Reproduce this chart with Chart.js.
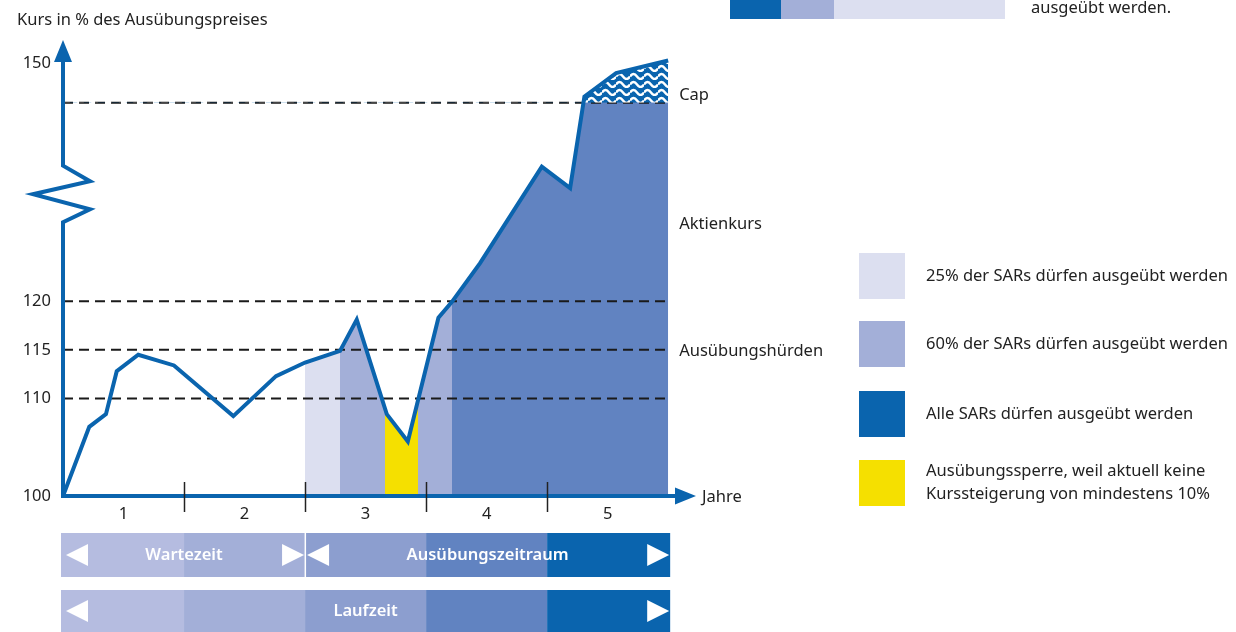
<!DOCTYPE html>
<html lang="de">
<head>
<meta charset="utf-8">
<title>SAR Ausübung</title>
<script src="https://cdn.jsdelivr.net/npm/chart.js@4.4.1/dist/chart.umd.min.js"></script>
<style>
  html, body { margin: 0; padding: 0; background: #fff; }
  #wrap { position: relative; width: 1236px; height: 632px; overflow: hidden; }
</style>
</head>
<body>
<div id="wrap"><canvas id="sarChart" width="1236" height="632"></canvas></div>
<script>
// Aktienkurs (Jahre / Kurs in % des Ausübungspreises, oberhalb des Achsenbruchs gestaucht)
const kursJahre = [0, 0.217, 0.355, 0.444, 0.622, 0.917, 1.407, 1.76, 2.0, 2.289, 2.427, 2.675, 2.849, 3.102, 3.212, 3.446, 3.956, 4.19, 4.308, 4.57, 5.0];
const kursWerte = [100, 107.1, 108.4, 112.8, 114.5, 113.4, 108.2, 112.3, 113.7, 114.9, 118.1, 108.4, 105.6, 118.3, 119.9, 123.9, 133.8, 131.6, 141.0, 143.4, 144.7];

// Ausübungshürden und Cap
const huerden = [110, 115, 120];
const capWert = 140.35;

// Farbbänder unter der Kurslinie
const bandVon = [2.0, 2.289, 2.661, 2.931, 3.212];
const bandBis = [2.289, 2.661, 2.931, 3.212, 5.0];
const bandFarben = ['#dcdff0', '#a3afd8', '#f5e000', '#a3afd8', '#6183c1'];

// Achsenbeschriftung
const yTickWerte = [100, 110, 115, 120, 144.4];
const yTickLabels = ['100', '110', '115', '120', '150'];
const jahrLabels = ['1', '2', '3', '4', '5'];
const achsenbruch = [128.1, 133.9];

// Zeitbalken unten
const balkenFarben = ['#b5bce0', '#a3afd8', '#8c9ecf', '#6183c1', '#0a64ae'];

// Legende
const legendeTexte = ['25% der SARs dürfen ausgeübt werden', '60% der SARs dürfen ausgeübt werden', 'Alle SARs dürfen ausgeübt werden', 'Ausübungssperre, weil aktuell keine\nKurssteigerung von mindestens 10%'];
const legendeFarben = ['#dcdff0', '#a3afd8', '#0a64ae', '#f5e000'];

const BLAU = '#0a64ae';
const FONT = '"Noto Sans", "Open Sans", sans-serif';
const TEXT = '#222';
const GROESSE = '16.5px ';

const kursDaten = kursJahre.map(function(j, i) { return { x: j, y: kursWerte[i] }; });

// Wellenmuster oberhalb des Caps
function wellenMuster() {
    const c = document.createElement('canvas');
    c.width = 14;
    c.height = 8;
    const g = c.getContext('2d');
    g.fillStyle = BLAU;
    g.fillRect(0, 0, 14, 8);
    g.strokeStyle = '#fff';
    g.lineWidth = 2.4;
    g.beginPath();
    g.moveTo(0, 4.5);
    g.quadraticCurveTo(3.5, -0.5, 7, 4.5);
    g.quadraticCurveTo(10.5, 9.5, 14, 4.5);
    g.stroke();
    return g.createPattern(c, 'repeat');
}
const muster = wellenMuster();

function bandVerlauf(context) {
    const chart = context.chart;
    if (!chart.chartArea || !chart.scales.x) return 'rgba(0,0,0,0)';
    const x = chart.scales.x;
    const x0 = x.getPixelForValue(0);
    const x1 = x.getPixelForValue(5);
    const grad = chart.ctx.createLinearGradient(x0, 0, x1, 0);
    grad.addColorStop(0, 'rgba(255,255,255,0)');
    bandVon.forEach(function(v, i) {
        grad.addColorStop(v / 5, i === 0 ? 'rgba(255,255,255,0)' : bandFarben[i - 1]);
        grad.addColorStop(v / 5, bandFarben[i]);
    });
    grad.addColorStop(1, bandFarben[bandFarben.length - 1]);
    return grad;
}

function dreieck(ctx, spitzeX, mitteY, richtung) {
    ctx.beginPath();
    ctx.moveTo(spitzeX, mitteY);
    ctx.lineTo(spitzeX - richtung * 22, mitteY - 11);
    ctx.lineTo(spitzeX - richtung * 22, mitteY + 11);
    ctx.closePath();
    ctx.fill();
}

const dekoPlugin = {
    id: 'deko',
    afterDatasetsDraw: function(chart) {
        const ctx = chart.ctx;
        const x = chart.scales.x;
        const y = chart.scales.y;
        const area = chart.chartArea;
        const x0 = x.getPixelForValue(0);
        const y0 = y.getPixelForValue(100);

        ctx.save();
        // y-Achse mit Bruch
        const yb = y.getPixelForValue(achsenbruch[0]);
        const yt = y.getPixelForValue(achsenbruch[1]);
        ctx.strokeStyle = BLAU;
        ctx.lineWidth = 4;
        ctx.lineJoin = 'miter';
        ctx.beginPath();
        ctx.moveTo(x0, y0 + 2);
        ctx.lineTo(x0, yb);
        ctx.lineTo(x0 + 27, yb - 13);
        ctx.lineTo(x0 - 30, yb - 28);
        ctx.lineTo(x0 + 27, yb - 41);
        ctx.lineTo(x0, yt);
        ctx.lineTo(x0, area.top + 18);
        ctx.stroke();
        ctx.fillStyle = BLAU;
        ctx.beginPath();
        ctx.moveTo(x0, area.top);
        ctx.lineTo(x0 - 9, area.top + 22);
        ctx.lineTo(x0 + 9, area.top + 22);
        ctx.closePath();
        ctx.fill();

        // x-Achse
        ctx.beginPath();
        ctx.moveTo(x0 - 2, y0);
        ctx.lineTo(area.right - 18, y0);
        ctx.stroke();
        ctx.beginPath();
        ctx.moveTo(area.right, y0);
        ctx.lineTo(area.right - 21, y0 - 8.5);
        ctx.lineTo(area.right - 21, y0 + 8.5);
        ctx.closePath();
        ctx.fill();

        // Jahresstriche
        ctx.strokeStyle = TEXT;
        ctx.lineWidth = 1.5;
        for (let i = 1; i < 5; i++) {
            const px = Math.round(x.getPixelForValue(i)) + 0.5;
            ctx.beginPath();
            ctx.moveTo(px, y0 - 14);
            ctx.lineTo(px, y0 + 16);
            ctx.stroke();
        }

        // Texte
        ctx.fillStyle = TEXT;
        ctx.font = GROESSE + FONT;
        ctx.textBaseline = 'middle';
        ctx.textAlign = 'right';
        yTickWerte.forEach(function(v, i) {
            ctx.fillText(yTickLabels[i], 51, y.getPixelForValue(v));
        });
        ctx.textAlign = 'center';
        jahrLabels.forEach(function(l, i) {
            ctx.fillText(l, x.getPixelForValue(i + 0.5), y0 + 18);
        });
        ctx.textAlign = 'left';
        ctx.fillText('Kurs in % des Ausübungspreises', 17, 20);
        ctx.fillText('Jahre', area.right + 6, y0 + 1);
        const lx = x.getPixelForValue(5) + 11;
        ctx.fillText('Cap', lx, y.getPixelForValue(capWert) - 8);
        ctx.fillText('Aktienkurs', lx, y.getPixelForValue(127.9));
        ctx.fillText('Ausübungshürden', lx, y.getPixelForValue(huerden[1]) + 1);

        // Zeitbalken
        const kanten = [x0 - 2, x.getPixelForValue(1), x.getPixelForValue(2), x.getPixelForValue(3), x.getPixelForValue(4), x.getPixelForValue(5) + 2];
        const reihen = [[533, 44], [590, 42]];
        reihen.forEach(function(r) {
            for (let i = 0; i < 5; i++) {
                ctx.fillStyle = balkenFarben[i];
                ctx.fillRect(kanten[i], r[0], kanten[i + 1] - kanten[i], r[1]);
            }
        });
        ctx.fillStyle = '#fff';
        ctx.fillRect(kanten[2] - 0.5, reihen[0][0], 1.5, reihen[0][1]);
        const m1 = reihen[0][0] + reihen[0][1] / 2;
        const m2 = reihen[1][0] + reihen[1][1] / 2;
        dreieck(ctx, kanten[0] + 5, m1, -1);
        dreieck(ctx, kanten[2] - 1, m1, 1);
        dreieck(ctx, kanten[2] + 2, m1, -1);
        dreieck(ctx, kanten[5] - 1, m1, 1);
        dreieck(ctx, kanten[0] + 5, m2, -1);
        dreieck(ctx, kanten[5] - 1, m2, 1);
        ctx.font = '600 ' + GROESSE + FONT;
        ctx.textAlign = 'center';
        ctx.fillText('Wartezeit', kanten[1], m1);
        ctx.fillText('Ausübungszeitraum', (kanten[3] + kanten[4]) / 2 + 1, m1);
        ctx.fillText('Laufzeit', (kanten[2] + kanten[3]) / 2, m2);

        // Legende rechts
        const legY = [253, 321, 391, 460];
        ctx.textAlign = 'left';
        ctx.font = GROESSE + FONT;
        legendeTexte.forEach(function(t, i) {
            ctx.fillStyle = legendeFarben[i];
            ctx.fillRect(859, legY[i], 46, 46);
            ctx.fillStyle = TEXT;
            const zeilen = t.split('\n');
            zeilen.forEach(function(z, k) {
                ctx.fillText(z, 926, legY[i] + 23 + (k - (zeilen.length - 1) / 2) * 23);
            });
        });

        // angeschnittene Legende oben
        ctx.fillStyle = legendeFarben[2];
        ctx.fillRect(730, 0, 51, 19);
        ctx.fillStyle = legendeFarben[1];
        ctx.fillRect(781, 0, 53, 19);
        ctx.fillStyle = legendeFarben[0];
        ctx.fillRect(834, 0, 171, 19);
        ctx.fillStyle = TEXT;
        ctx.fillText('ausgeübt werden.', 1031, 8);
        ctx.restore();
    }
};

const hurdenSets = huerden.concat([capWert]).map(function(h) {
    return {
        data: [{ x: 0, y: h }, { x: 5, y: h }],
        borderColor: '#1a1a1a',
        borderWidth: 2,
        borderDash: [10, 6],
        pointRadius: 0,
        fill: false,
        order: 1
    };
});

new Chart(document.getElementById('sarChart'), {
    type: 'line',
    data: {
        datasets: [{
            data: kursDaten,
            borderColor: BLAU,
            borderWidth: 4,
            borderJoinStyle: 'miter',
            pointRadius: 0,
            tension: 0,
            clip: false,
            fill: { target: { value: capWert }, above: muster, below: 'rgba(0,0,0,0)' },
            order: 0
        }].concat(hurdenSets).concat([{
            data: kursDaten,
            borderWidth: 0,
            borderColor: 'rgba(0,0,0,0)',
            backgroundColor: bandVerlauf,
            pointRadius: 0,
            tension: 0,
            fill: 'start',
            order: 2
        }])
    },
    options: {
        responsive: false,
        animation: false,
        devicePixelRatio: 1,
        layout: { padding: { left: 63, right: 540, top: 40, bottom: 136 } },
        plugins: { legend: { display: false }, tooltip: { enabled: false } },
        scales: {
            x: { type: 'linear', min: 0, max: 5.23, display: false },
            y: { type: 'linear', min: 100, max: 146.8, display: false }
        }
    },
    plugins: [dekoPlugin]
});
</script>
</body>
</html>
